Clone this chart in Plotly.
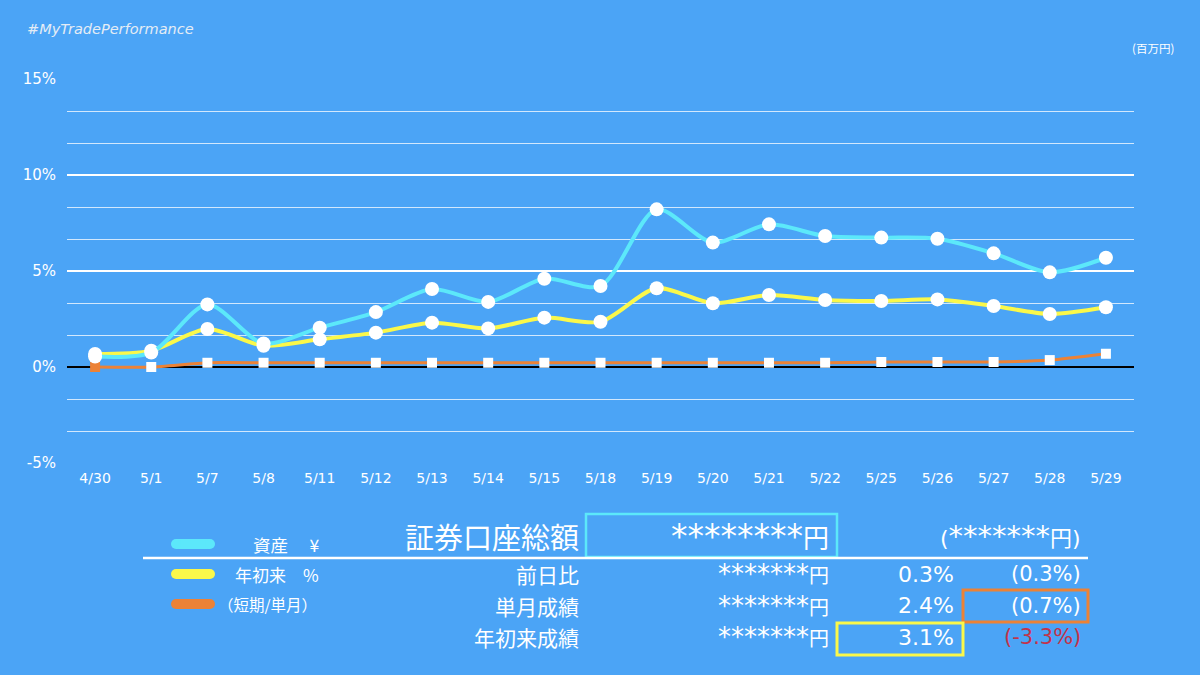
import plotly.graph_objects as go

# data
dates = ['4/30', '5/1', '5/7', '5/8', '5/11', '5/12', '5/13', '5/14', '5/15', '5/18',
         '5/19', '5/20', '5/21', '5/22', '5/25', '5/26', '5/27', '5/28', '5/29']
asset_pct = [0.55, 0.75, 3.26, 1.23, 2.05, 2.86, 4.06, 3.39, 4.6, 4.22,
             8.21, 6.48, 7.43, 6.82, 6.74, 6.68, 5.92, 4.93, 5.69]
ytd_pct = [0.68, 0.85, 1.98, 1.11, 1.44, 1.79, 2.31, 2.01, 2.57, 2.36,
           4.1, 3.32, 3.75, 3.49, 3.44, 3.52, 3.18, 2.76, 3.11]
month_pct = [0.0, 0.0, 0.22, 0.22, 0.22, 0.22, 0.22, 0.22, 0.22, 0.22,
             0.22, 0.22, 0.22, 0.22, 0.26, 0.26, 0.26, 0.36, 0.69]
ytick_vals = [-5, 0, 5, 10, 15]
ytick_text = ['-5%', '0%', '5%', '10%', '15%']

legend_names = ['資産　 ¥', '年初来　%', '（短期/単月）']
table_rows = ['前日比', '単月成績', '年初来成績']
table_yen = ['*******円', '*******円', '*******円']
table_pct = ['0.3%', '2.4%', '3.1%']
table_sub = ['(0.3%)', '(0.7%)', '(-3.3%)']
total_label = '証券口座総額'
total_value = '********円'
total_prev = '(*******円)'

BG = '#4BA4F6'
CYAN = '#5CE8FA'
YELLOW = '#FAF84A'
ORANGE = '#EC8236'
RED = '#C2334A'
LATIN = 'DejaVu Sans'
JP = 'Noto Sans CJK JP'

# plot area in pixels
L, R, T, B = 67, 1134, 79, 463


def px(x):
    return (x - L) / (R - L)


def py(y):
    return (B - y) / (B - T)


def stars(s, size):
    # the asterisks in the reference are much wider than the CJK font's
    out = ''
    buf = ''
    for ch in s:
        if ch == '*':
            buf += ch
        else:
            if buf:
                out += '<span style="font-size:%dpx">%s</span>' % (size, buf)
                buf = ''
            out += ch
    if buf:
        out += '<span style="font-size:%dpx">%s</span>' % (size, buf)
    return out


fig = go.Figure()

fig.add_trace(go.Scatter(
    x=dates, y=month_pct, mode='lines+markers', name=legend_names[2],
    line=dict(color=ORANGE, width=3, shape='spline', smoothing=0.6),
    marker=dict(symbol='square', size=10,
                color=[ORANGE] + ['white'] * (len(dates) - 1)),
))
fig.add_trace(go.Scatter(
    x=dates, y=ytd_pct, mode='lines+markers', name=legend_names[1],
    line=dict(color=YELLOW, width=4, shape='spline', smoothing=0.8),
    marker=dict(symbol='circle', size=14, color='white'),
))
fig.add_trace(go.Scatter(
    x=dates, y=asset_pct, mode='lines+markers', name=legend_names[0],
    line=dict(color=CYAN, width=4, shape='spline', smoothing=0.8),
    marker=dict(symbol='circle', size=14, color='white'),
))

fig.update_layout(
    width=1200, height=675,
    paper_bgcolor=BG, plot_bgcolor=BG,
    showlegend=False,
    margin=dict(l=L, r=1200 - R, t=T, b=675 - B),
    font=dict(family=LATIN, color='white'),
)
fig.update_xaxes(
    type='category', range=[-0.5, len(dates) - 0.5],
    showgrid=False, zeroline=False, showline=False,
    ticks='', tickfont=dict(size=14, color='white'), ticklabelstandoff=5,
)
fig.update_yaxes(
    range=[-5, 15], tickvals=ytick_vals, ticktext=ytick_text,
    showgrid=True, gridcolor='white', gridwidth=1.5,
    minor=dict(tick0=-5, dtick=5 / 3, showgrid=True,
               gridcolor='rgba(255,255,255,0.75)', gridwidth=1),
    zeroline=True, zerolinecolor='black', zerolinewidth=1.5,
    tickfont=dict(size=15, color='white'), ticks='', ticklabelstandoff=10,
)

ann = []
shapes = []

ann.append(dict(text='<i>#MyTradePerformance</i>', x=px(25), y=py(29),
                xref='paper', yref='paper', xanchor='left', yanchor='middle',
                showarrow=False, font=dict(size=14.5, color='#E4ECF5', family=LATIN)))
ann.append(dict(text='(百万円)', x=px(1176), y=py(48), xref='paper', yref='paper',
                xanchor='right', yanchor='middle', showarrow=False,
                font=dict(size=11.5, color='white', family=JP)))

# legend pills
for i, (name, col) in enumerate(zip(legend_names, [CYAN, YELLOW, ORANGE])):
    yc = 544 + i * 30
    r = 5
    shapes.append(dict(type='rect', xref='paper', yref='paper', line_width=0,
                       fillcolor=col, x0=px(171 + r), x1=px(215 - r),
                       y0=py(yc + r), y1=py(yc - r)))
    for cx in (171 + r, 215 - r):
        shapes.append(dict(type='circle', xref='paper', yref='paper', line_width=0,
                           fillcolor=col, x0=px(cx - r), x1=px(cx + r),
                           y0=py(yc + r), y1=py(yc - r)))
legend_x = [321, 321, 319]
legend_size = [17.5, 17, 15.5]
for i, name in enumerate(legend_names):
    ann.append(dict(text=name, x=px(legend_x[i]), y=py(544 + i * 30),
                    xref='paper', yref='paper', xanchor='right', yanchor='middle',
                    showarrow=False, font=dict(size=legend_size[i], color='white', family=JP)))

# table header
ann.append(dict(text=total_label, x=px(581), y=py(536), xref='paper', yref='paper',
                xanchor='right', yanchor='middle', showarrow=False,
                font=dict(size=29, color='white', family=JP)))
ann.append(dict(text=stars(total_value, 33), x=px(831), y=py(536), xref='paper',
                yref='paper', xanchor='right', yanchor='middle', showarrow=False,
                font=dict(size=26, color='white', family=LATIN + ', ' + JP)))
ann.append(dict(text=stars(total_prev, 29), x=px(1083), y=py(536), xref='paper',
                yref='paper', xanchor='right', yanchor='middle', showarrow=False,
                font=dict(size=22, color='white', family=LATIN + ', ' + JP)))
shapes.append(dict(type='rect', xref='paper', yref='paper',
                   line=dict(color=CYAN, width=2.5),
                   x0=px(586), x1=px(837), y0=py(557), y1=py(514)))
shapes.append(dict(type='line', xref='paper', yref='paper',
                   line=dict(color='white', width=2.5),
                   x0=px(143), x1=px(1088), y0=py(558), y1=py(558)))

# table rows
for i in range(len(table_rows)):
    yc = 574 + i * 31.5
    ann.append(dict(text=table_rows[i], x=px(581), y=py(yc), xref='paper', yref='paper',
                    xanchor='right', yanchor='middle', showarrow=False,
                    font=dict(size=21, color='white', family=JP)))
    ann.append(dict(text=stars(table_yen[i], 26), x=px(831), y=py(yc), xref='paper',
                    yref='paper', xanchor='right', yanchor='middle', showarrow=False,
                    font=dict(size=20, color='white', family=LATIN + ', ' + JP)))
    ann.append(dict(text=table_pct[i], x=px(956), y=py(yc), xref='paper', yref='paper',
                    xanchor='right', yanchor='middle', showarrow=False,
                    font=dict(size=22, color='white', family=LATIN)))
    ann.append(dict(text=table_sub[i], x=px(1083), y=py(yc), xref='paper', yref='paper',
                    xanchor='right', yanchor='middle', showarrow=False,
                    font=dict(size=21, color=RED if i == 2 else 'white', family=LATIN)))

shapes.append(dict(type='rect', xref='paper', yref='paper',
                   line=dict(color=ORANGE, width=3),
                   x0=px(963), x1=px(1088), y0=py(622), y1=py(590)))
shapes.append(dict(type='rect', xref='paper', yref='paper',
                   line=dict(color=YELLOW, width=3),
                   x0=px(837), x1=px(963), y0=py(655), y1=py(623)))

fig.update_layout(annotations=ann, shapes=shapes)

fig.write_html("out.html", config={'displayModeBar': False},
               post_script="document.body.style.margin='0';")
